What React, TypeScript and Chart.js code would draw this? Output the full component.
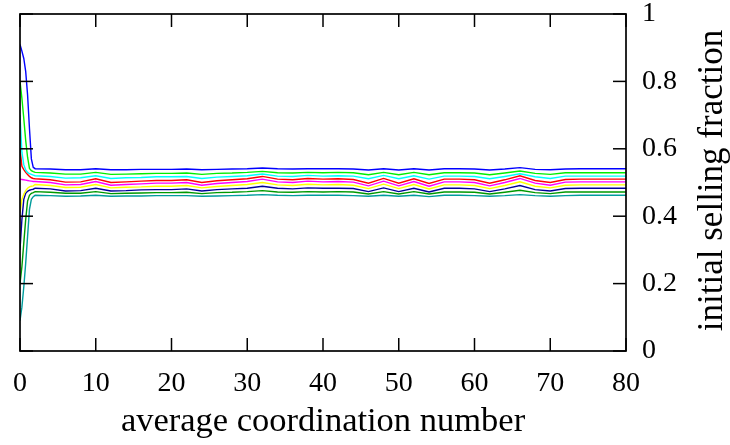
import React, { useEffect, useRef } from "react";
import { Chart, registerables } from "chart.js";

Chart.register(...registerables);

const xValues = [
  0, 0.25, 0.5, 0.75, 1, 1.25, 1.5, 1.75,
  2, 4, 6, 8, 10, 12, 14, 16, 18, 20, 22, 24, 26, 28, 30, 32, 34, 36, 38, 40,
  42, 44, 46, 48, 50, 52, 54, 56, 58, 60, 62, 64, 66, 68, 70, 72, 74, 76, 78, 80,
];

const blueSeries = [
  0.91, 0.89, 0.868, 0.83, 0.76, 0.66, 0.57, 0.545,
  0.541, 0.54, 0.538, 0.538, 0.541, 0.538, 0.538, 0.539, 0.539, 0.539,
  0.54, 0.538, 0.539, 0.54, 0.541, 0.543, 0.541, 0.54, 0.541, 0.541,
  0.541, 0.54, 0.537, 0.541, 0.537, 0.541, 0.537, 0.541, 0.541, 0.54,
  0.537, 0.54, 0.544, 0.539, 0.538, 0.54, 0.541, 0.541, 0.541, 0.541,
];
const greenSeries = [
  0.8, 0.75, 0.69, 0.625, 0.575, 0.542, 0.535, 0.532,
  0.53, 0.528, 0.525, 0.525, 0.53, 0.524, 0.525, 0.526, 0.527, 0.527,
  0.528, 0.524, 0.527, 0.528, 0.53, 0.533, 0.529, 0.528, 0.53, 0.529,
  0.53, 0.529, 0.523, 0.53, 0.523, 0.53, 0.523, 0.529, 0.529, 0.528,
  0.523, 0.528, 0.534, 0.527, 0.524, 0.529, 0.529, 0.529, 0.529, 0.529,
];
const cyanSeries = [
  0.7, 0.59, 0.553, 0.537, 0.53, 0.526, 0.524, 0.522,
  0.52, 0.518, 0.513, 0.514, 0.52, 0.512, 0.514, 0.515, 0.517, 0.517,
  0.518, 0.512, 0.516, 0.518, 0.52, 0.525, 0.519, 0.518, 0.521, 0.519,
  0.52, 0.519, 0.511, 0.521, 0.511, 0.52, 0.51, 0.519, 0.519, 0.518,
  0.511, 0.518, 0.526, 0.517, 0.512, 0.519, 0.519, 0.519, 0.519, 0.519,
];
const redSeries = [
  0.6, 0.548, 0.538, 0.53, 0.524, 0.518, 0.514, 0.512,
  0.511, 0.508, 0.501, 0.502, 0.511, 0.5, 0.502, 0.504, 0.506, 0.506,
  0.508, 0.5, 0.505, 0.508, 0.511, 0.518, 0.51, 0.508, 0.512, 0.51,
  0.511, 0.509, 0.498, 0.512, 0.498, 0.511, 0.497, 0.51, 0.51, 0.508,
  0.498, 0.508, 0.52, 0.506, 0.5, 0.509, 0.51, 0.51, 0.51, 0.51,
];
const magentaSeries = [
  0.51, 0.509, 0.508, 0.507, 0.506, 0.505, 0.504, 0.503,
  0.503, 0.5, 0.493, 0.494, 0.503, 0.492, 0.494, 0.496, 0.498, 0.498,
  0.5, 0.492, 0.497, 0.5, 0.503, 0.51, 0.502, 0.5, 0.504, 0.502,
  0.503, 0.501, 0.49, 0.504, 0.49, 0.503, 0.489, 0.502, 0.502, 0.5,
  0.49, 0.5, 0.512, 0.498, 0.492, 0.501, 0.502, 0.502, 0.502, 0.502,
];
const yellowSeries = [
  0.41, 0.45, 0.465, 0.476, 0.483, 0.487, 0.489, 0.49,
  0.494, 0.491, 0.485, 0.486, 0.494, 0.484, 0.486, 0.487, 0.489, 0.489,
  0.491, 0.484, 0.488, 0.491, 0.494, 0.5, 0.493, 0.491, 0.495, 0.493,
  0.494, 0.492, 0.482, 0.495, 0.482, 0.494, 0.481, 0.493, 0.493, 0.491,
  0.482, 0.491, 0.502, 0.489, 0.484, 0.492, 0.493, 0.493, 0.493, 0.493,
];
const navySeries = [
  0.3, 0.39, 0.45, 0.468, 0.474, 0.477, 0.479, 0.48,
  0.483, 0.481, 0.475, 0.476, 0.483, 0.475, 0.476, 0.478, 0.479, 0.479,
  0.481, 0.475, 0.479, 0.481, 0.483, 0.489, 0.483, 0.481, 0.484, 0.483,
  0.483, 0.482, 0.473, 0.484, 0.473, 0.483, 0.472, 0.483, 0.483, 0.481,
  0.473, 0.481, 0.491, 0.479, 0.475, 0.482, 0.483, 0.483, 0.483, 0.483,
];
const darkGreenSeries = [
  0.2, 0.25, 0.32, 0.39, 0.445, 0.462, 0.468, 0.47,
  0.473, 0.471, 0.468, 0.468, 0.473, 0.467, 0.468, 0.469, 0.47, 0.47,
  0.471, 0.467, 0.47, 0.471, 0.473, 0.476, 0.472, 0.471, 0.473, 0.472,
  0.473, 0.472, 0.466, 0.473, 0.466, 0.473, 0.466, 0.472, 0.472, 0.471,
  0.466, 0.471, 0.477, 0.47, 0.467, 0.472, 0.472, 0.472, 0.472, 0.472,
];
const tealSeries = [
  0.09, 0.13, 0.19, 0.26, 0.34, 0.42, 0.45, 0.458,
  0.462, 0.461, 0.459, 0.46, 0.462, 0.459, 0.46, 0.46, 0.461, 0.461,
  0.461, 0.459, 0.46, 0.461, 0.462, 0.464, 0.462, 0.461, 0.462, 0.462,
  0.462, 0.461, 0.459, 0.462, 0.459, 0.462, 0.458, 0.462, 0.462, 0.461,
  0.459, 0.461, 0.464, 0.461, 0.459, 0.461, 0.462, 0.462, 0.462, 0.462,
];

const seriesList = [
  blueSeries, greenSeries, cyanSeries, redSeries, magentaSeries,
  yellowSeries, navySeries, darkGreenSeries, tealSeries,
];
const seriesColors = [
  "#0000ff", "#00ee00", "#00ffff", "#ff0000", "#ff00ff",
  "#ffff00", "#000099", "#009900", "#009c9c",
];

const xTitle = "average coordination number";
const yTitle = "initial selling fraction";
const FONT = '"Liberation Serif", "Times New Roman", serif';
const TICK_LEN = 13;

const framePlugin = {
  id: "frame",
  afterDraw(chart: any) {
    const { ctx, chartArea: a, scales } = chart;
    const xs = scales.x;
    const ys = scales.y;
    ctx.save();
    ctx.strokeStyle = "#000";
    ctx.lineWidth = 1.7;
    ctx.strokeRect(a.left, a.top, a.right - a.left, a.bottom - a.top);
    ctx.lineWidth = 1.5;
    for (const t of xs.ticks) {
      const px = xs.getPixelForValue(t.value);
      ctx.beginPath();
      ctx.moveTo(px, a.bottom);
      ctx.lineTo(px, a.bottom - TICK_LEN);
      ctx.stroke();
      ctx.beginPath();
      ctx.moveTo(px, a.top);
      ctx.lineTo(px, a.top + TICK_LEN);
      ctx.stroke();
    }
    for (const t of ys.ticks) {
      const py = ys.getPixelForValue(t.value);
      ctx.beginPath();
      ctx.moveTo(a.left, py);
      ctx.lineTo(a.left + TICK_LEN, py);
      ctx.stroke();
      ctx.beginPath();
      ctx.moveTo(a.right, py);
      ctx.lineTo(a.right - TICK_LEN, py);
      ctx.stroke();
    }

    ctx.fillStyle = "#000";
    ctx.font = `34.5px ${FONT}`;
    ctx.textAlign = "center";
    ctx.textBaseline = "alphabetic";
    ctx.fillText(xTitle, (a.left + a.right) / 2, 431);
    ctx.translate(722, (a.top + a.bottom) / 2 - 2);
    ctx.rotate(-Math.PI / 2);
    ctx.font = `35px ${FONT}`;
    ctx.fillText(yTitle, 0, 0);
    ctx.restore();
  },
};

export default function App() {
  const ref = useRef<HTMLCanvasElement>(null);
  useEffect(() => {
    if (!ref.current) return;
    const chart = new Chart(ref.current, {
      type: "line",
      data: {
        datasets: seriesList.map((s, i) => ({
          data: xValues.map((x, j) => ({ x, y: s[j] })),
          borderColor: seriesColors[i],
          borderWidth: 1.4,
          pointRadius: 0,
          tension: 0,
          fill: false,
        })),
      },
      options: {
        responsive: false,
        animation: false,
        devicePixelRatio: 1,
        layout: { padding: { left: 20, top: 14, right: 0, bottom: 0 } },
        plugins: { legend: { display: false }, tooltip: { enabled: false } },
        scales: {
          x: {
            type: "linear",
            min: 0,
            max: 80,
            ticks: {
              stepSize: 10,
              color: "#000",
              padding: 8,
              maxRotation: 0,
              font: { family: FONT, size: 28 },
            },
            grid: { display: false },
            border: { display: false },
            afterFit(scale: any) {
              scale.height = 94;
              scale.paddingLeft = 0;
              scale.paddingRight = 0;
            },
          },
          y: {
            type: "linear",
            position: "right",
            min: 0,
            max: 1,
            ticks: {
              stepSize: 0.2,
              color: "#000",
              padding: 8,
              font: { family: FONT, size: 28 },
              callback: (v: any) => String(Math.round(Number(v) * 10) / 10),
            },
            grid: { display: false },
            border: { display: false },
            afterFit(scale: any) {
              scale.width = 104;
              scale.paddingTop = 0;
              scale.paddingBottom = 0;
            },
          },
        },
      },
      plugins: [framePlugin],
    });
    return () => chart.destroy();
  }, []);
  return (
    <div style={{ position: "absolute", left: 0, top: 0, width: 730, height: 445, background: "#fff" }}>
      <canvas ref={ref} width={730} height={445} />
    </div>
  );
}
